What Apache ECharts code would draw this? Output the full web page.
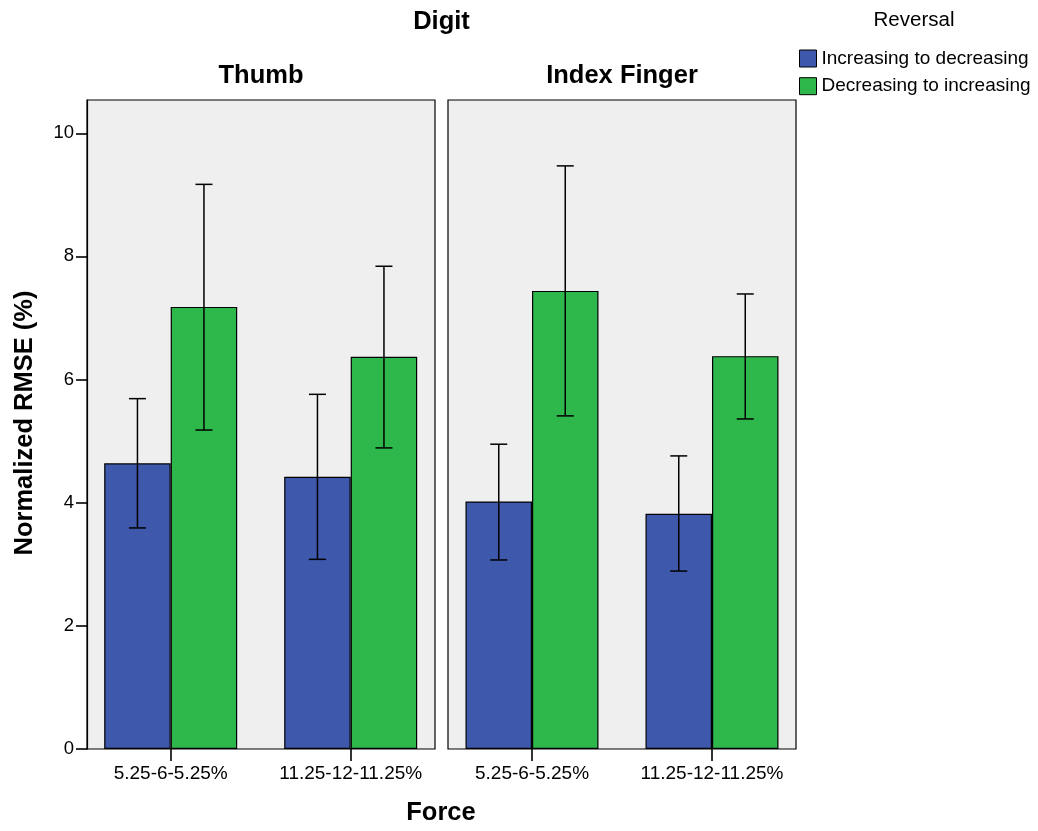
<!DOCTYPE html>
<html>
<head>
<meta charset="utf-8">
<script src="https://cdn.jsdelivr.net/npm/echarts@6/dist/echarts.min.js"></script>
<style>html,body{margin:0;padding:0;background:#fff}#c{width:1038px;height:831px}</style>
</head>
<body>
<div id="c"></div>
<script>
// ---- data ----
const categories = ['5.25-6-5.25%', '11.25-12-11.25%'];
const panels = ['Thumb', 'Index Finger'];
const seriesNames = ['Increasing to decreasing', 'Decreasing to increasing'];
const yTickValues = [0, 2, 4, 6, 8, 10];
const yMax = 10.54;

// means
const thumbIncDec = [4.64, 4.42];
const thumbDecInc = [7.18, 6.37];
const indexIncDec = [4.02, 3.82];
const indexDecInc = [7.44, 6.38];
// error bar lows / highs
const thumbIncDecLo = [3.59, 3.08], thumbIncDecHi = [5.69, 5.76];
const thumbDecIncLo = [5.18, 4.89], thumbDecIncHi = [9.17, 7.84];
const indexIncDecLo = [3.07, 2.89], indexIncDecHi = [4.95, 4.76];
const indexDecIncLo = [5.41, 5.36], indexDecIncHi = [9.47, 7.39];

// ---- styles ----
const FONT = "'Liberation Sans', Arial, sans-serif";
const COLORS = ['#3e58ac', '#2eb84b'];
const BAR_W = 66.5;
const CAP_W = 17;

const panelData = [
  { means: [thumbIncDec, thumbDecInc], lo: [thumbIncDecLo, thumbDecIncLo], hi: [thumbIncDecHi, thumbDecIncHi] },
  { means: [indexIncDec, indexDecInc], lo: [indexIncDecLo, indexDecIncLo], hi: [indexIncDecHi, indexDecIncHi] }
];

const bgGrids = [
  { left: 87, top: 100, width: 348, height: 649 },
  { left: 448, top: 100, width: 348, height: 649 }
];
const dataGrids = [
  { left: 80.7, top: 100, width: 360, height: 649 },
  { left: 442, top: 100, width: 360, height: 649 }
];

const grid = [];
bgGrids.forEach(g => grid.push(Object.assign({ show: true, backgroundColor: '#efefef', borderColor: '#000', borderWidth: 1.2, containLabel: false }, g)));
dataGrids.forEach(g => grid.push(Object.assign({ show: false, containLabel: false }, g)));

const xAxis = [], yAxis = [];
// background axes
[0, 1].forEach(i => {
  xAxis.push({ type: 'value', gridIndex: i, show: false, min: 0, max: 1 });
  yAxis.push({
    type: 'value', gridIndex: i, min: 0, max: yMax, interval: 2,
    show: i === 0,
    axisLine: { show: true, lineStyle: { color: '#000', width: 1.2 } },
    axisTick: { show: true, length: 11, lineStyle: { color: '#000', width: 1.6 }, customValues: yTickValues },
    axisLabel: { color: '#000', fontSize: 18.5, fontFamily: FONT, margin: 13, customValues: yTickValues },
    splitLine: { show: false }
  });
});
// data axes
[0, 1].forEach(i => {
  xAxis.push({
    type: 'category', gridIndex: 2 + i, data: categories, boundaryGap: true,
    axisLine: { show: false },
    axisTick: { show: true, alignWithLabel: true, length: 12, lineStyle: { color: '#000', width: 1.6 } },
    axisLabel: { color: '#000', fontSize: 19, fontFamily: FONT, margin: 15, interval: 0 },
    splitLine: { show: false }
  });
  yAxis.push({ type: 'value', gridIndex: 2 + i, min: 0, max: yMax, show: false, splitLine: { show: false } });
});

const series = [];
panelData.forEach((pd, p) => {
  pd.means.forEach((vals, s) => {
    series.push({
      type: 'bar', name: seriesNames[s], xAxisIndex: 2 + p, yAxisIndex: 2 + p,
      data: vals, barWidth: BAR_W, barGap: '0%',
      itemStyle: { color: COLORS[s], borderColor: '#000', borderWidth: 1.2 },
      emphasis: { disabled: true }, z: 2
    });
  });
  pd.means.forEach((vals, s) => {
    const dir = s === 0 ? -1 : 1;
    series.push({
      type: 'custom', xAxisIndex: 2 + p, yAxisIndex: 2 + p, z: 5,
      data: categories.map((c, ci) => [ci, pd.lo[s][ci], pd.hi[s][ci]]),
      encode: { x: 0, y: [1, 2] },
      renderItem: function (params, api) {
        const ci = api.value(0);
        const lo = api.coord([ci, api.value(1)]);
        const hi = api.coord([ci, api.value(2)]);
        const x = lo[0] + dir * BAR_W / 2;
        const st = { stroke: '#000', lineWidth: 1.5 };
        return {
          type: 'group',
          children: [
            { type: 'line', shape: { x1: x, y1: lo[1], x2: x, y2: hi[1] }, style: st },
            { type: 'line', shape: { x1: x - CAP_W / 2, y1: lo[1], x2: x + CAP_W / 2, y2: lo[1] }, style: st },
            { type: 'line', shape: { x1: x - CAP_W / 2, y1: hi[1], x2: x + CAP_W / 2, y2: hi[1] }, style: st }
          ]
        };
      }
    });
  });
});

function txt(text, x, y, size, bold, rot) {
  return {
    type: 'text', x: x, y: y, rotation: rot || 0, z: 10,
    style: { text: text, fill: '#000', font: (bold ? 'bold ' : '') + size + 'px ' + FONT, textAlign: 'center', textVerticalAlign: 'middle' }
  };
}

const option = {
  animation: false,
  backgroundColor: '#fff',
  grid: grid,
  xAxis: xAxis,
  yAxis: yAxis,
  legend: {
    data: seriesNames, orient: 'vertical', left: 799, top: 49, padding: 0,
    itemWidth: 17, itemHeight: 17, itemGap: 8.7, icon: 'rect',
    itemStyle: { borderColor: '#000', borderWidth: 1 },
    textStyle: { color: '#000', fontSize: 19, fontFamily: FONT },
    selectedMode: false
  },
  graphic: [
    txt('Digit', 441.5, 21.5, 25.5, true),
    txt(panels[0], 261, 75.5, 25.5, true),
    txt(panels[1], 622, 75.5, 25.5, true),
    txt('Reversal', 914, 20.5, 20.5, false),
    txt('Force', 441, 813, 25.5, true),
    txt('Normalized RMSE (%)', 25, 423, 25.5, true, Math.PI / 2)
  ],
  series: series
};

const chart = echarts.init(document.getElementById('c'), null, { renderer: 'canvas' });
chart.setOption(option);
</script>
</body>
</html>
